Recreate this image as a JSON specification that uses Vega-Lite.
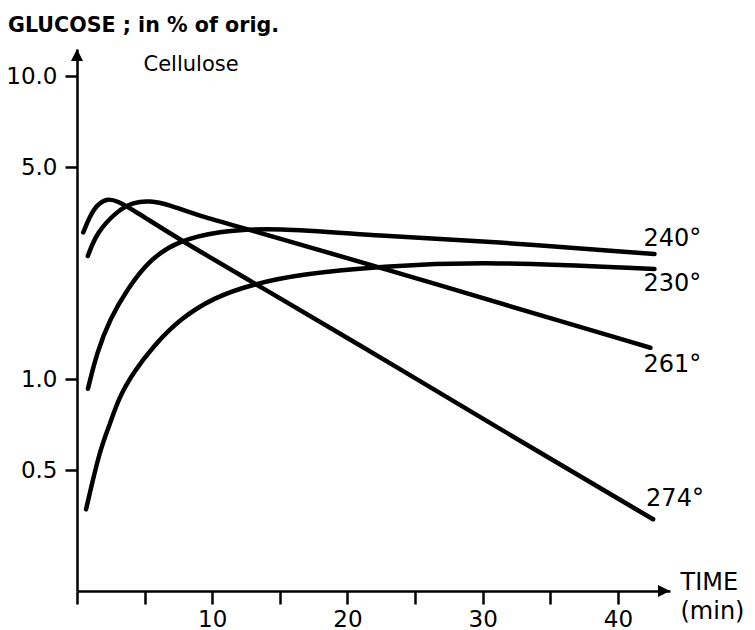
{
  "$schema": "https://vega.github.io/schema/vega-lite/v6.json",
  "width": 593,
  "height": 542,
  "autosize": "none",
  "padding": {"left": 77, "top": 49, "right": 85, "bottom": 39},
  "background": "white",
  "config": {
    "view": {"stroke": null},
    "font": "DejaVu Sans",
    "axis": {"grid": false, "domainColor": "black", "domainWidth": 2.5, "tickColor": "black", "tickWidth": 2.5, "labelColor": "black", "labelFont": "DejaVu Sans", "labelFontSize": 23, "titleColor": "black", "titleFont": "DejaVu Sans"}
  },
  "title": {"text": "GLUCOSE ; in % of orig.", "anchor": "start", "frame": "group", "dx": -69, "offset": 2, "baseline": "middle", "fontSize": 20.6, "fontWeight": "bold", "font": "DejaVu Sans", "color": "black"},
  "data": {"values": [
    {"t": 0.46, "g": 3.05, "s": "274°"}, {"t": 1.21, "g": 3.69, "s": "274°"}, {"t": 2.2, "g": 3.97, "s": "274°"}, {"t": 3.0, "g": 3.87, "s": "274°"}, {"t": 4.15, "g": 3.62, "s": "274°"}, {"t": 7.8, "g": 2.85, "s": "274°"}, {"t": 13.0, "g": 2.09, "s": "274°"}, {"t": 23.9, "g": 1.08, "s": "274°"}, {"t": 32.8, "g": 0.624, "s": "274°"}, {"t": 42.6, "g": 0.345, "s": "274°"},
    {"t": 0.8, "g": 2.55, "s": "261°"}, {"t": 1.46, "g": 3.05, "s": "261°"}, {"t": 2.96, "g": 3.59, "s": "261°"}, {"t": 4.15, "g": 3.84, "s": "261°"}, {"t": 5.4, "g": 3.88, "s": "261°"}, {"t": 6.7, "g": 3.78, "s": "261°"}, {"t": 9.1, "g": 3.45, "s": "261°"}, {"t": 12.6, "g": 3.13, "s": "261°"}, {"t": 22.4, "g": 2.34, "s": "261°"}, {"t": 34.8, "g": 1.6, "s": "261°"}, {"t": 42.4, "g": 1.27, "s": "261°"},
    {"t": 0.81, "g": 0.93, "s": "240°"}, {"t": 1.48, "g": 1.23, "s": "240°"}, {"t": 2.44, "g": 1.58, "s": "240°"}, {"t": 3.7, "g": 1.98, "s": "240°"}, {"t": 5.41, "g": 2.49, "s": "240°"}, {"t": 7.41, "g": 2.85, "s": "240°"}, {"t": 10.37, "g": 3.08, "s": "240°"}, {"t": 14.5, "g": 3.17, "s": "240°"}, {"t": 22.4, "g": 2.97, "s": "240°"}, {"t": 30.6, "g": 2.85, "s": "240°"}, {"t": 42.7, "g": 2.59, "s": "240°"},
    {"t": 0.67, "g": 0.372, "s": "230°"}, {"t": 1.7, "g": 0.588, "s": "230°"}, {"t": 2.44, "g": 0.71, "s": "230°"}, {"t": 3.05, "g": 0.86, "s": "230°"}, {"t": 4.15, "g": 1.05, "s": "230°"}, {"t": 5.6, "g": 1.28, "s": "230°"}, {"t": 7.6, "g": 1.58, "s": "230°"}, {"t": 10.1, "g": 1.86, "s": "230°"}, {"t": 13.0, "g": 2.06, "s": "230°"}, {"t": 16.5, "g": 2.22, "s": "230°"}, {"t": 22.4, "g": 2.36, "s": "230°"}, {"t": 30.6, "g": 2.45, "s": "230°"}, {"t": 42.7, "g": 2.31, "s": "230°"}
  ]},
  "encoding": {
    "x": {"field": "t", "type": "quantitative", "scale": {"domain": [0, 43.85], "nice": false, "zero": false},
      "axis": {"values": [0, 5, 10, 15, 20, 25, 30, 35, 40], "tickSize": 13, "labelPadding": 4, "labelExpr": "datum.value % 10 == 0 && datum.value > 0 ? datum.label : ''",
        "title": ["TIME", "(min)"], "titleAngle": 0, "titleAlign": "left", "titleBaseline": "top", "titleX": 603, "titleY": -21, "titleFontSize": 24, "titleFontWeight": "normal", "titleLineHeight": 29}},
    "y": {"field": "g", "type": "quantitative", "scale": {"type": "log", "domain": [0.2, 12.3], "nice": false},
      "axis": {"values": [0.5, 1, 5, 10], "format": ".1f", "tickSize": 12, "labelPadding": 8,
        "title": "Cellulose", "titleAngle": 0, "titleAlign": "left", "titleBaseline": "middle", "titleX": 66, "titleY": 15, "titleFontSize": 21, "titleFontWeight": "normal"}}
  },
  "layer": [
    {"mark": {"type": "line", "interpolate": "basis", "color": "black", "strokeWidth": 4.5, "strokeCap": "round"}, "encoding": {"detail": {"field": "s"}}},
    {"transform": [{"filter": "datum.s == '240°' && datum.t == 42.7"}], "mark": {"type": "text", "align": "left", "baseline": "middle", "dx": -11, "dy": -15, "fontSize": 24, "color": "black"}, "encoding": {"text": {"field": "s"}}},
    {"transform": [{"filter": "datum.s == '230°' && datum.t == 42.7"}], "mark": {"type": "text", "align": "left", "baseline": "middle", "dx": -11, "dy": 15, "fontSize": 24, "color": "black"}, "encoding": {"text": {"field": "s"}}},
    {"transform": [{"filter": "datum.s == '261°' && datum.t == 42.4"}], "mark": {"type": "text", "align": "left", "baseline": "middle", "dx": -7, "dy": 17, "fontSize": 24, "color": "black"}, "encoding": {"text": {"field": "s"}}},
    {"transform": [{"filter": "datum.s == '274°' && datum.t == 42.6"}], "mark": {"type": "text", "align": "left", "baseline": "middle", "dx": -7, "dy": -20, "fontSize": 24, "color": "black"}, "encoding": {"text": {"field": "s"}}},
    {"transform": [{"filter": "datum.s == '274°' && datum.t == 42.6"}], "mark": {"type": "point", "shape": "M0,0L-2,-1L-2,1Z", "filled": true, "fill": "black", "stroke": null, "size": 144, "opacity": 1}, "encoding": {"x": {"datum": 43.85}, "y": {"datum": 0.2}}},
    {"transform": [{"filter": "datum.s == '274°' && datum.t == 42.6"}], "mark": {"type": "point", "shape": "M0,0L-1,2L1,2Z", "filled": true, "fill": "black", "stroke": null, "size": 144, "opacity": 1}, "encoding": {"x": {"datum": 0}, "y": {"datum": 12.3}}}
  ]
}
